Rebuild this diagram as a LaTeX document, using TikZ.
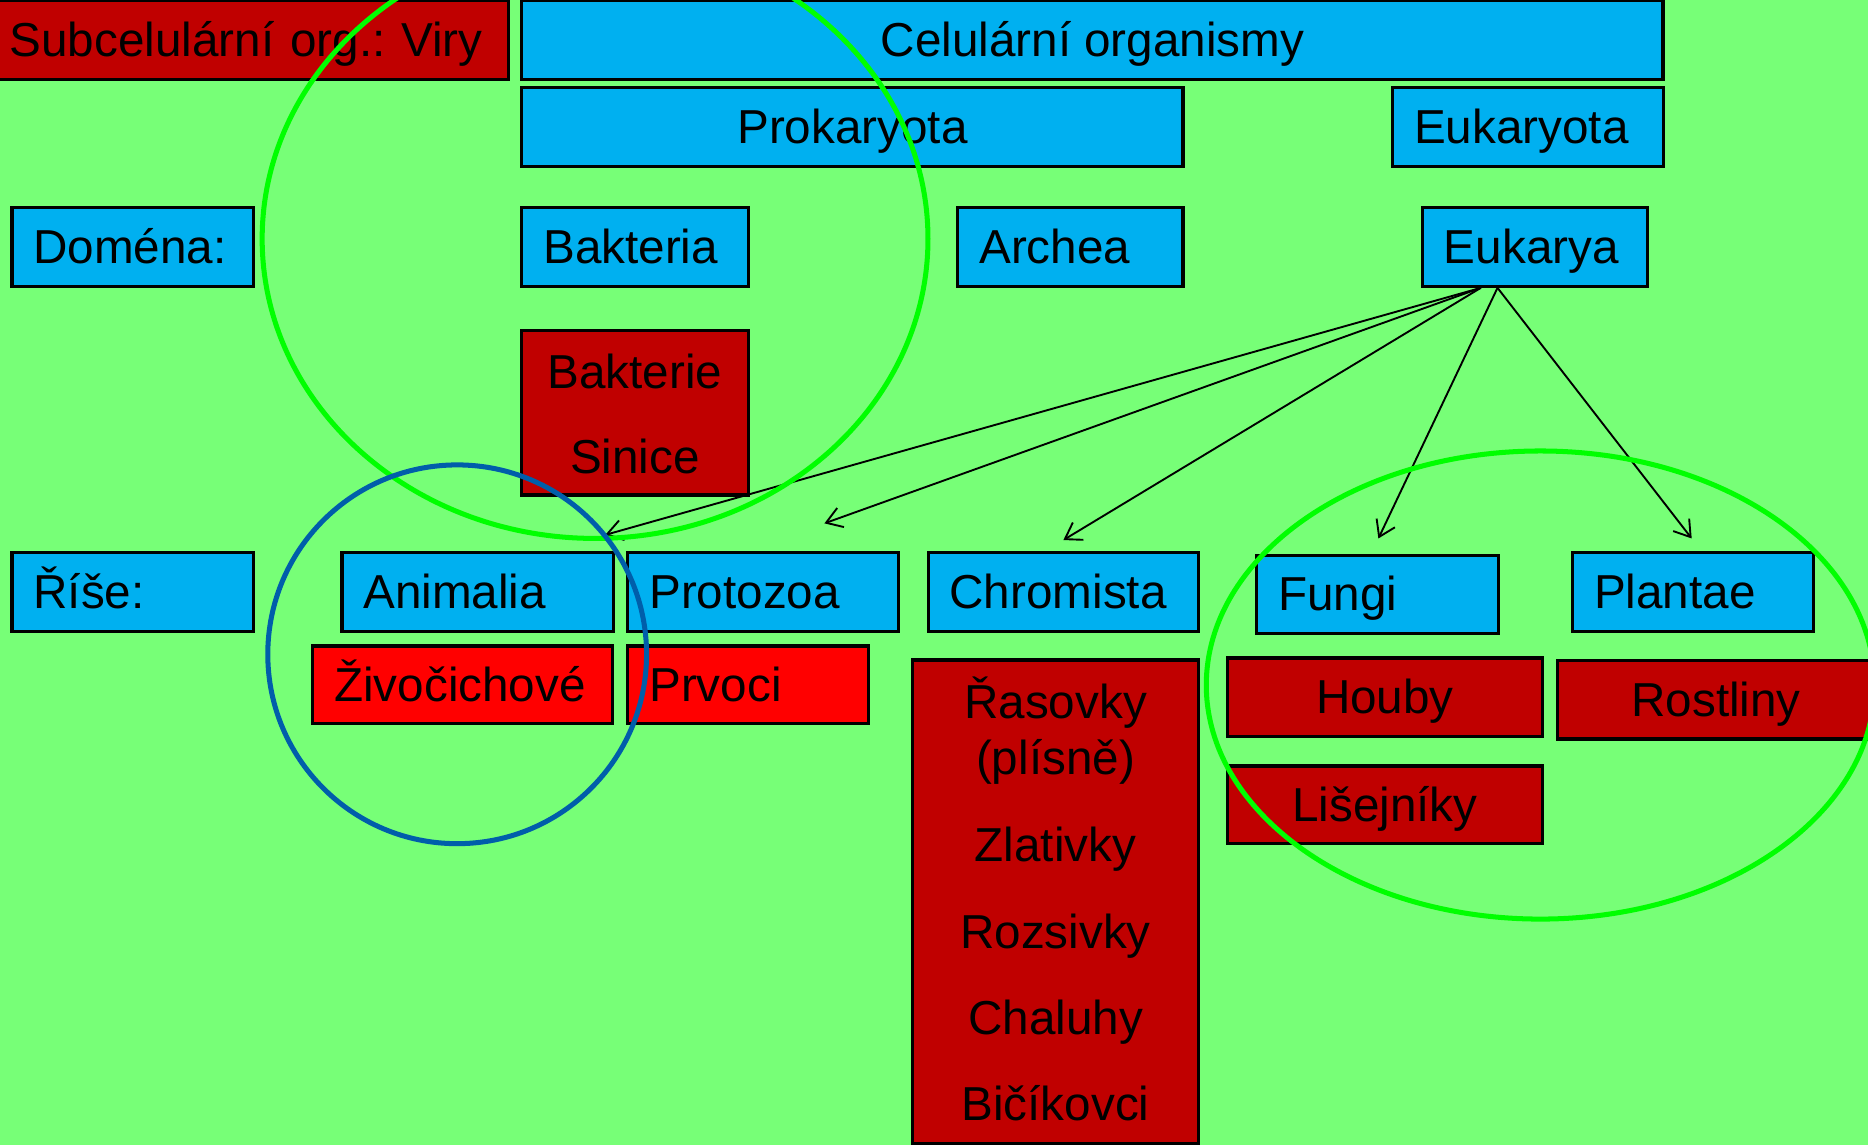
\documentclass[tikz,border=0pt]{standalone}
\usepackage{fontspec}
\setmainfont{Liberation Sans}
\usetikzlibrary{arrows.meta}
\definecolor{bgg}{RGB}{119,255,119}
\definecolor{cblue}{RGB}{0,176,240}
\definecolor{dred}{RGB}{192,0,0}
\definecolor{bred}{RGB}{255,0,0}
\definecolor{lgreen}{RGB}{0,255,0}
\definecolor{rblue}{RGB}{0,94,170}
\newcommand{\bigtxt}{\fontsize{22.76pt}{27pt}\selectfont\frenchspacing}
\begin{document}
\begin{tikzpicture}[x=0.02cm,y=-0.02cm,
  box/.style={draw=black, line width=1.5pt, inner ysep=0pt, font=\bigtxt,
    text height=0.55cm, text depth=0pt, minimum height=1.32cm},
  cbox/.style={box, fill=cblue},
  rbox/.style={box, fill=dred},
  brbox/.style={box, fill=bred},
  lft/.style={inner xsep=0.36cm, align=left, text width=#1},
  lbl/.style={font=\bigtxt, text height=0.55cm, text depth=0pt, inner sep=0pt},
  ell/.style={line width=2.4pt},
  arr/.style={line width=0.9pt, -{Straight Barb[length=0.26cm,width=0.34cm]}}
]
\fill[bgg] (0,0) rectangle (1568,961);
\useasboundingbox (0,0) rectangle (1568,961);

% top rows
\node[rbox, lft=8.02cm] (viry) at (208.5,33.5) {\mbox{Subcelulární org.: Viry}};
\node[cbox, minimum width=19.16cm] (cel) at (917,33.5) {Celulární organismy};
\node[cbox, minimum width=11.1cm] (prok) at (715.5,106.5) {Prokaryota};
\node[cbox, lft=3.82cm] (eukaryota) at (1282.5,106.5) {Eukaryota};

% domains
\node[cbox, lft=3.34cm] (domena) at (111.5,207.3) {Doména:};
\node[cbox, lft=3.08cm] (bakteria) at (533,207.3) {Bakteria};
\node[cbox, lft=3.06cm] (archea) at (898.5,207.3) {Archea};
\node[cbox, lft=3.06cm] (eukarya) at (1288.5,207.3) {Eukarya};

\node[rbox, minimum width=3.8cm, minimum height=2.76cm] (baksin) at (533,346.5) {};
\node[lbl] (bak1) at (533,312) {Bakterie};
\node[lbl] (bak2) at (533,384) {Sinice};

% kingdoms
\node[cbox, lft=3.34cm] (rise) at (111.5,497) {Říše:};
\node[cbox, lft=3.84cm] (animalia) at (401,497) {Animalia};
\node[cbox, lft=3.82cm] (protozoa) at (640.5,497) {Protozoa};
\node[cbox, lft=3.82cm] (chromista) at (892.5,497) {Chromista};
\node[cbox, lft=3.34cm] (fungi) at (1156.5,499) {Fungi};
\node[cbox, lft=3.32cm] (plantae) at (1421,497) {Plantae};

\node[brbox, lft=4.32cm, minimum height=1.3cm] (zivo) at (388.5,574.7) {Živočichové};
\node[brbox, lft=3.32cm, minimum height=1.3cm] (prvoci) at (628,574.7) {Prvoci};

\node[rbox, minimum width=4.8cm, minimum height=8.12cm] (chrl) at (886,757) {};
\node[lbl] (ch1) at (886,589) {Řasovky};
\node[lbl] (ch2) at (886,636) {(plísně)};
\node[lbl] (ch3) at (886,709) {Zlativky};
\node[lbl] (ch4) at (886,782) {Rozsivky};
\node[lbl] (ch5) at (886,855) {Chaluhy};
\node[lbl] (ch6) at (886,927) {Bičíkovci};

\node[rbox, minimum width=5.3cm] (houby) at (1162.5,585.3) {Houby};
\node[rbox, minimum width=5.3cm, minimum height=1.3cm] (lisej) at (1162.5,675.5) {Lišejníky};
\node[rbox, minimum width=5.34cm] (rostliny) at (1440.5,587.3) {Rostliny};

% arrows
\coordinate (tA) at (508,449);
\coordinate (tP) at (692,439.3);
\coordinate (tC) at (892.6,453.3);
\coordinate (tF) at (1157,452);
\coordinate (tPl) at (1420,452);
\draw[arr] ([xshift=-0.91cm]eukarya.south) -- (tA);
\draw[arr] ([xshift=-0.91cm]eukarya.south) -- (tP);
\draw[arr] ([xshift=-0.91cm]eukarya.south) -- (tC);
\draw[arr] ([xshift=-0.63cm]eukarya.south) -- (tF);
\draw[arr] ([xshift=-0.63cm]eukarya.south) -- (tPl);

% ellipses
\draw[ell, lgreen] (499.5,200.5) ellipse [x radius=5.59cm, y radius=5.03cm];
\draw[ell, rblue] (383.75,549.2) circle [radius=3.18cm];
\draw[ell, lgreen] (1293,575) ellipse [x radius=5.61cm, y radius=3.93cm];
\end{tikzpicture}
\end{document}
